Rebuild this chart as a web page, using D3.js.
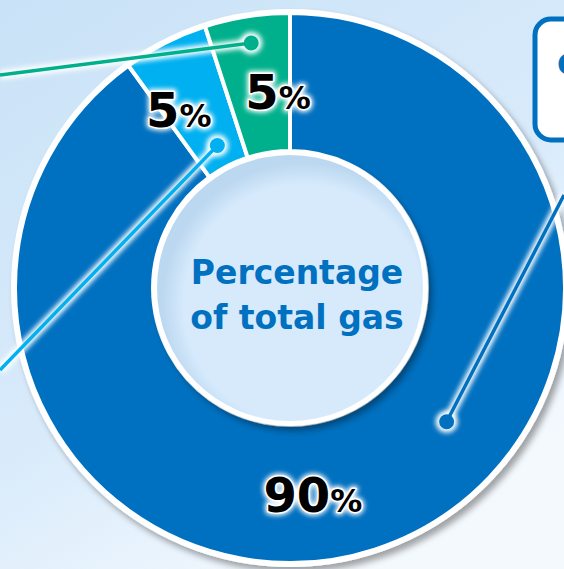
<!DOCTYPE html>
<html>
<head>
<meta charset="utf-8">
<script src="https://cdn.jsdelivr.net/npm/d3@7"></script>
<style>
  html, body { margin: 0; padding: 0; overflow: hidden; }
  svg { display: block; }
</style>
</head>
<body>
<div id="chart"></div>
<script>
// share of total gas
var segments = ["main", "second", "third"];
var shares = [90, 5, 5];
var labels = ["90%", "5%", "5%"];
var colors = ["#0070c0", "#00b0f0", "#00b08c"];
var centerLines = ["Percentage", "of total gas"];

var width = 564, height = 569;
var cx = 290, cy = 288;
var rOuter = 275, rInner = 137;

var svg = d3.select("#chart").append("svg")
  .attr("width", width)
  .attr("height", height);

var defs = svg.append("defs");

var bg = defs.append("linearGradient").attr("id", "bg")
  .attr("x1", "0").attr("y1", "0").attr("x2", "0.6").attr("y2", "1");
bg.append("stop").attr("offset", "0").attr("stop-color", "#c9e2f7");
bg.append("stop").attr("offset", "0.6").attr("stop-color", "#d9ebfb");
bg.append("stop").attr("offset", "1").attr("stop-color", "#f4f9fe");

var shadow = defs.append("filter").attr("id", "shadow")
  .attr("x", "-10%").attr("y", "-10%").attr("width", "130%").attr("height", "130%");
shadow.append("feDropShadow").attr("dx", 4).attr("dy", 5).attr("stdDeviation", 3)
  .attr("flood-color", "#000").attr("flood-opacity", 0.35);

var glow = defs.append("filter").attr("id", "glow")
  .attr("x", "-50%").attr("y", "-50%").attr("width", "200%").attr("height", "200%");
glow.append("feGaussianBlur").attr("stdDeviation", 2.5);

var innerGrad = defs.append("radialGradient").attr("id", "innerGrad")
  .attr("cx", "0.55").attr("cy", "0.56").attr("r", "0.53");
innerGrad.append("stop").attr("offset", "0.85").attr("stop-color", "#d6eafc");
innerGrad.append("stop").attr("offset", "1").attr("stop-color", "#bcd8f0");

svg.append("rect").attr("width", width).attr("height", height).attr("fill", "url(#bg)");

var g = svg.append("g").attr("transform", "translate(" + cx + "," + cy + ")");

var pie = d3.pie().sort(null).value(function (d) { return d; });
var arcs = pie(shares);
var arc = d3.arc().innerRadius(rInner).outerRadius(rOuter);

// white outer disc with shadow
g.append("circle").attr("r", rOuter + 4).attr("fill", "#fff").attr("filter", "url(#shadow)");

g.selectAll("path.seg").data(arcs).enter().append("path")
  .attr("class", "seg")
  .attr("d", arc)
  .attr("fill", function (d, i) { return colors[i]; })
  .attr("stroke", "#fff")
  .attr("stroke-width", 4);

// inner hole
g.append("circle").attr("r", rInner + 1).attr("fill", "#fff").attr("filter", "url(#shadow)");
g.append("circle").attr("r", rInner - 4).attr("fill", "url(#innerGrad)");

g.selectAll("text.center").data(centerLines).enter().append("text")
  .attr("class", "center")
  .attr("x", 7)
  .attr("y", function (d, i) { return -4 + i * 45; })
  .attr("text-anchor", "middle")
  .attr("font-family", "DejaVu Sans, Verdana, sans-serif")
  .attr("font-weight", "bold")
  .attr("font-size", 33)
  .attr("fill", "#0070c0")
  .text(function (d) { return d; });

// leader lines: dot inside the segment, line out to the side
function polar(angle, r) {
  return [Math.sin(angle) * r, -Math.cos(angle) * r];
}
var mid = function (d) { return (d.startAngle + d.endAngle) / 2; };
var leaders = [
  { seg: 0, from: polar(130.5 * Math.PI / 180, 206), to: [width - cx, 195 - cy] },
  { seg: 1, from: polar(mid(arcs[1]), 160), to: [-cx, 370 - cy] },
  { seg: 2, from: polar(mid(arcs[2]), 248), to: [-cx, 75 - cy] }
];

leaders.forEach(function (l) {
  var c = colors[l.seg];
  var lg = g.append("g");
  lg.append("line")
    .attr("x1", l.from[0]).attr("y1", l.from[1]).attr("x2", l.to[0]).attr("y2", l.to[1])
    .attr("stroke", "#fff").attr("stroke-width", 9).attr("filter", "url(#glow)");
  lg.append("circle").attr("cx", l.from[0]).attr("cy", l.from[1]).attr("r", 11)
    .attr("fill", "#fff").attr("filter", "url(#glow)");
  lg.append("line")
    .attr("x1", l.from[0]).attr("y1", l.from[1]).attr("x2", l.to[0]).attr("y2", l.to[1])
    .attr("stroke", c).attr("stroke-width", 3.5);
  lg.append("circle").attr("cx", l.from[0]).attr("cy", l.from[1]).attr("r", 7.5)
    .attr("fill", c);
});

// percentage labels
var labelPos = [polar(173.7 * Math.PI / 180, 208), polar(-32 * Math.PI / 180, 210), polar(-3.5 * Math.PI / 180, 196)];
labels.forEach(function (t, i) {
  var num = t.replace("%", "");
  var lab = g.append("g").attr("transform", "translate(" + labelPos[i][0] + "," + labelPos[i][1] + ")");
  [["#fff", 6, "url(#glow)"], ["#fff", 3, null], ["#000", 0, null]].forEach(function (s) {
    var tx = lab.append("text")
      .attr("text-anchor", "middle")
      .attr("y", 17)
      .attr("font-family", "DejaVu Sans, Verdana, sans-serif")
      .attr("font-weight", "bold")
      .attr("fill", s[0])
      .attr("stroke", s[1] ? "#fff" : "none")
      .attr("stroke-width", s[1])
      .attr("stroke-linejoin", "round")
      .attr("filter", s[2]);
    tx.append("tspan").attr("font-size", 48).text(num);
    tx.append("tspan").attr("font-size", 32).text("%");
  });
});

// callout box on the right
svg.append("rect")
  .attr("x", 535).attr("y", 19).attr("width", 80).attr("height", 121).attr("rx", 16)
  .attr("fill", "#fff").attr("stroke", "#0070c0").attr("stroke-width", 5);
svg.append("text")
  .attr("x", 557).attr("y", 75)
  .attr("font-family", "DejaVu Sans, Verdana, sans-serif")
  .attr("font-weight", "bold").attr("font-size", 30)
  .attr("fill", "#0070c0")
  .text("C");
</script>
</body>
</html>
